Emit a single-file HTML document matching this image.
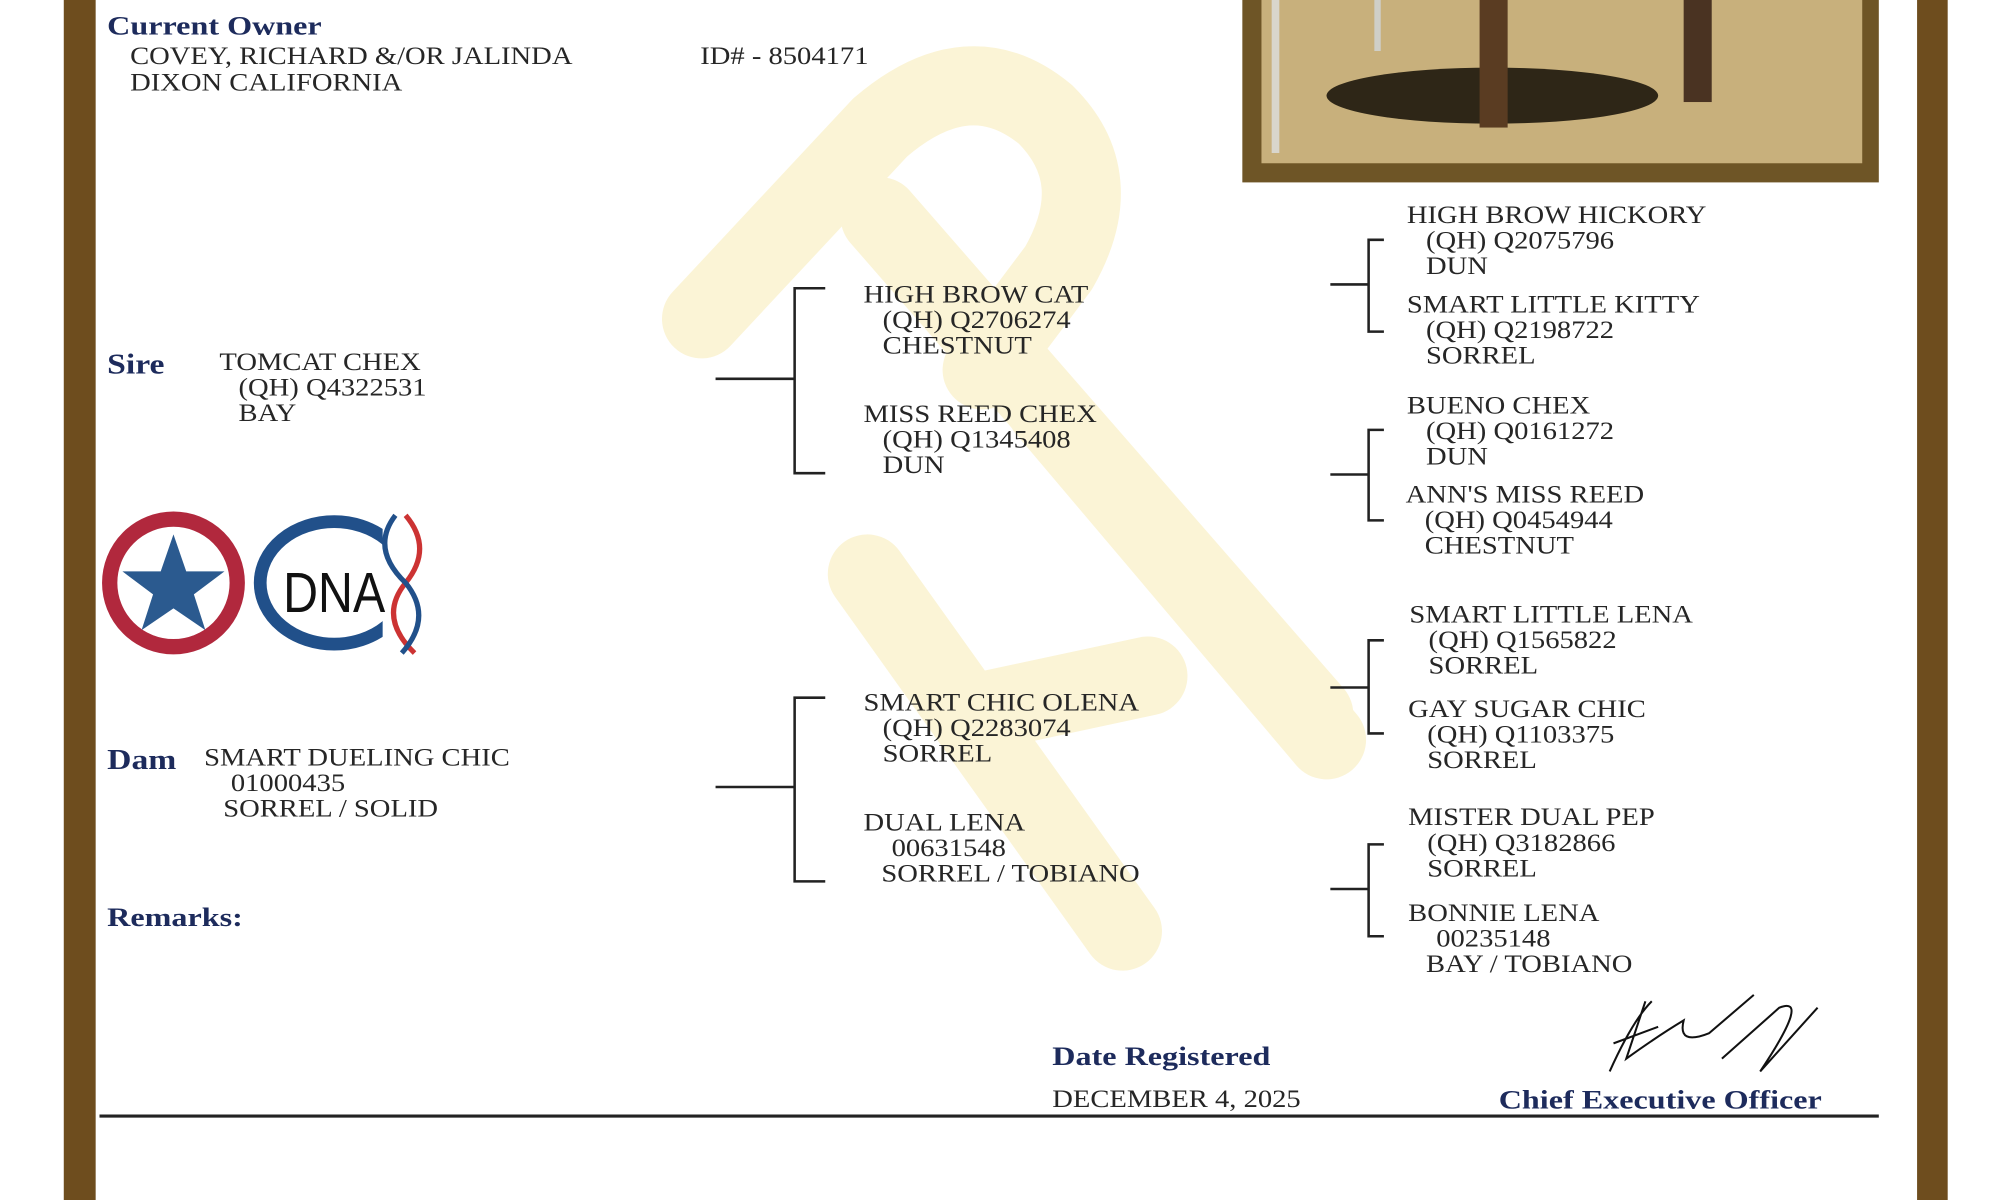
<!DOCTYPE html>
<html><head><meta charset="utf-8"><style>
html,body{margin:0;padding:0;background:#fff;}
#wrap{width:2000px;height:1200px;overflow:hidden;position:relative;background:#fff;}
#s{position:absolute;left:0;top:0;width:1568px;height:941px;transform:scale(1.2755);transform-origin:0 0;}
.t{position:absolute;font-family:"Liberation Serif",serif;font-size:20px;color:#262626;white-space:nowrap;line-height:1;transform:scaleX(1.12);transform-origin:0 0;}
.b{position:absolute;font-family:"Liberation Serif",serif;font-weight:bold;font-size:21px;color:#1d2b5c;white-space:nowrap;line-height:1;transform:scaleX(1.2);transform-origin:0 0;}
</style></head><body><div id="wrap"><div id="s">
<svg width="1568" height="941" style="position:absolute;left:0;top:0">
<g stroke="#fbf4d6" stroke-width="62" fill="none" stroke-linecap="round" stroke-linejoin="round">
<path d="M550 250 L690 100 Q760 40 820 90 Q870 140 830 210 L770 290"/>
<path d="M690 170 L1030 560"/>
<path d="M820 320 L1040 580"/>
<path d="M680 450 L880 730"/>
<path d="M760 560 L900 530"/>
</g>
<rect x="50" y="0" width="25" height="941" fill="#6e4d1e"/>
<rect x="1503" y="0" width="24" height="941" fill="#6e4d1e"/>
<rect x="974" y="0" width="499" height="143" fill="#6e5526"/>
<rect x="989" y="0" width="471" height="128" fill="#c8b07c"/>
<ellipse cx="1170" cy="75" rx="130" ry="22" fill="#2e2617"/>
<rect x="1160" y="0" width="22" height="100" fill="#5a3c22"/>
<rect x="1320" y="0" width="22" height="80" fill="#4a3322"/>
<line x1="1000" y1="0" x2="1000" y2="120" stroke="#d9d6cc" stroke-width="6"/>
<line x1="1080" y1="0" x2="1080" y2="40" stroke="#cfcfc8" stroke-width="5"/>
<g stroke="#222" stroke-width="2" fill="none">
<path d="M561 297H623M647 226H623V371H647"/>
<path d="M561 617H623M647 547H623V691H647"/>
<path d="M1043 223H1073M1085 188H1073V260H1085"/>
<path d="M1043 372H1073M1085 337H1073V408H1085"/>
<path d="M1043 539H1073M1085 502H1073V575H1085"/>
<path d="M1043 697H1073M1085 662H1073V734H1085"/>
</g>
<line x1="78" y1="875" x2="1473" y2="875" stroke="#222" stroke-width="2.5"/>
<path d="M1262 840 Q1280 800 1295 785 M1265 818 L1300 805 M1290 785 L1275 830 Q1300 812 1320 800 Q1315 820 1340 810 L1375 780 M1350 830 L1395 790 Q1420 780 1380 840 L1425 790" stroke="#111" stroke-width="1.6" fill="none"/>
<circle cx="136" cy="457" r="50" fill="#fff" stroke="#b1283d" stroke-width="12"/>
<circle cx="136" cy="457" r="38" fill="#fff"/>
<polygon points="136,419 146,448 176,448 152,466 161,494 136,477 111,494 120,466 96,448 126,448" fill="#2b5a8f"/>
<ellipse cx="262" cy="457" rx="58" ry="48" fill="none" stroke="#21508a" stroke-width="10"/>
<rect x="300" y="400" width="34" height="115" fill="#fff"/>
<path d="M318 404 Q340 430 318 457 Q296 484 325 512" stroke="#c33" stroke-width="4" fill="none"/>
<path d="M310 404 Q290 430 318 457 Q340 484 315 512" stroke="#21508a" stroke-width="4" fill="none"/>
<text x="222" y="480" font-family="Liberation Sans,sans-serif" font-size="44" fill="#111" textLength="80" lengthAdjust="spacingAndGlyphs">DNA</text>
</svg>
<div class="b" style="left:84px;top:10px;">Current Owner</div>
<div class="t" style="left:102px;top:34px;">COVEY, RICHARD &amp;/OR JALINDA</div>
<div class="t" style="left:102px;top:55px;">DIXON CALIFORNIA</div>
<div class="t" style="left:549px;top:34px;">ID# - 8504171</div>
<div class="b" style="left:84px;top:275px;font-size:22px;">Sire</div>
<div class="t" style="left:172px;top:274px;">TOMCAT CHEX</div>
<div class="t" style="left:187px;top:294px;">(QH) Q4322531</div>
<div class="t" style="left:187px;top:314px;">BAY</div>
<div class="b" style="left:84px;top:585px;font-size:22px;">Dam</div>
<div class="t" style="left:160px;top:584px;">SMART DUELING CHIC</div>
<div class="t" style="left:181px;top:604px;">01000435</div>
<div class="t" style="left:175px;top:624px;">SORREL / SOLID</div>
<div class="b" style="left:84px;top:709px;">Remarks:</div>
<div class="t" style="left:677px;top:221px;">HIGH BROW CAT</div>
<div class="t" style="left:692px;top:241px;">(QH) Q2706274</div>
<div class="t" style="left:692px;top:261px;">CHESTNUT</div>
<div class="t" style="left:677px;top:315px;">MISS REED CHEX</div>
<div class="t" style="left:692px;top:335px;">(QH) Q1345408</div>
<div class="t" style="left:692px;top:355px;">DUN</div>
<div class="t" style="left:677px;top:541px;">SMART CHIC OLENA</div>
<div class="t" style="left:692px;top:561px;">(QH) Q2283074</div>
<div class="t" style="left:692px;top:581px;">SORREL</div>
<div class="t" style="left:677px;top:635px;">DUAL LENA</div>
<div class="t" style="left:699px;top:655px;">00631548</div>
<div class="t" style="left:691px;top:675px;">SORREL / TOBIANO</div>
<div class="t" style="left:1103px;top:159px;">HIGH BROW HICKORY</div>
<div class="t" style="left:1118px;top:179px;">(QH) Q2075796</div>
<div class="t" style="left:1118px;top:199px;">DUN</div>
<div class="t" style="left:1103px;top:229px;">SMART LITTLE KITTY</div>
<div class="t" style="left:1118px;top:249px;">(QH) Q2198722</div>
<div class="t" style="left:1118px;top:269px;">SORREL</div>
<div class="t" style="left:1103px;top:308px;">BUENO CHEX</div>
<div class="t" style="left:1118px;top:328px;">(QH) Q0161272</div>
<div class="t" style="left:1118px;top:348px;">DUN</div>
<div class="t" style="left:1102px;top:378px;">ANN'S MISS REED</div>
<div class="t" style="left:1117px;top:398px;">(QH) Q0454944</div>
<div class="t" style="left:1117px;top:418px;">CHESTNUT</div>
<div class="t" style="left:1105px;top:472px;">SMART LITTLE LENA</div>
<div class="t" style="left:1120px;top:492px;">(QH) Q1565822</div>
<div class="t" style="left:1120px;top:512px;">SORREL</div>
<div class="t" style="left:1104px;top:546px;">GAY SUGAR CHIC</div>
<div class="t" style="left:1119px;top:566px;">(QH) Q1103375</div>
<div class="t" style="left:1119px;top:586px;">SORREL</div>
<div class="t" style="left:1104px;top:631px;">MISTER DUAL PEP</div>
<div class="t" style="left:1119px;top:651px;">(QH) Q3182866</div>
<div class="t" style="left:1119px;top:671px;">SORREL</div>
<div class="t" style="left:1104px;top:706px;">BONNIE LENA</div>
<div class="t" style="left:1126px;top:726px;">00235148</div>
<div class="t" style="left:1118px;top:746px;">BAY / TOBIANO</div>
<div class="b" style="left:825px;top:818px;">Date Registered</div>
<div class="t" style="left:825px;top:852px;">DECEMBER 4, 2025</div>
<div class="b" style="left:1175px;top:852px;">Chief Executive Officer</div>
</div></div></body></html>
